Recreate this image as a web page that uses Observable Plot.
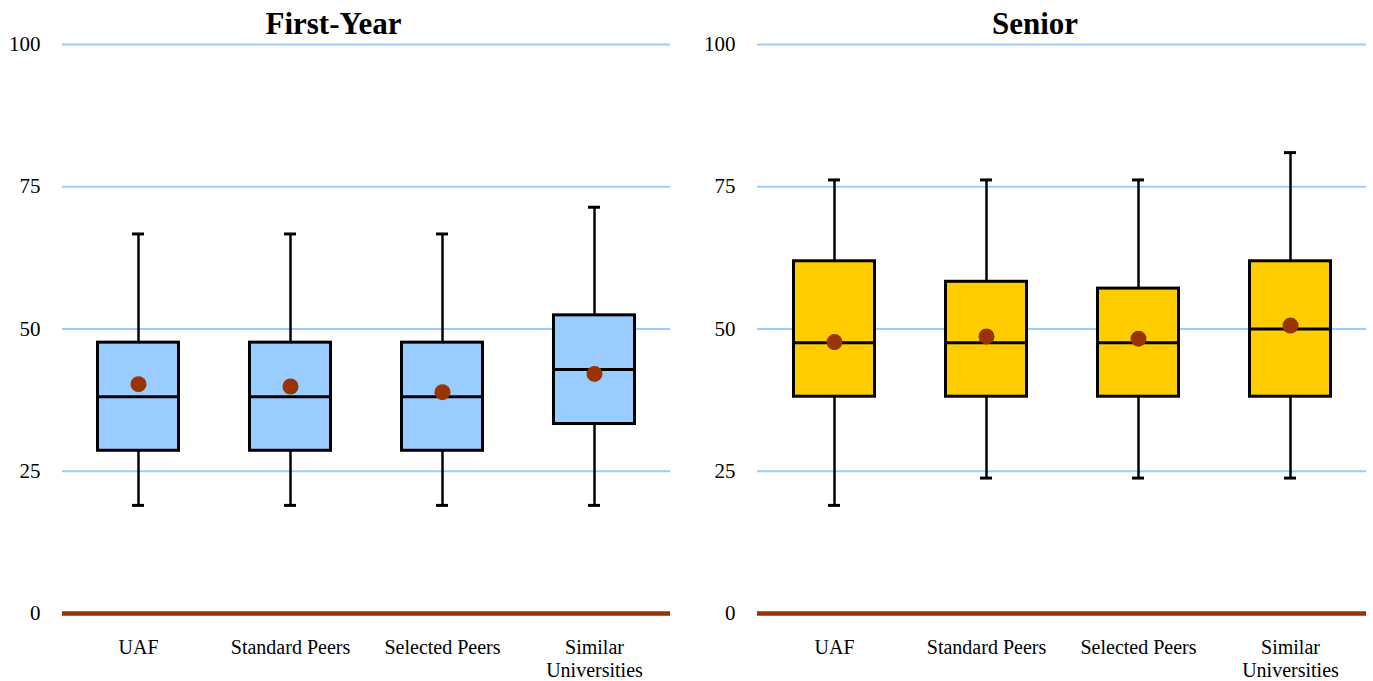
<!DOCTYPE html>
<html>
<head>
<meta charset="utf-8">
<script src="https://cdn.jsdelivr.net/npm/d3@7"></script>
<script src="https://cdn.jsdelivr.net/npm/@observablehq/plot@0.6"></script>
<style>
  html, body { margin: 0; padding: 0; background: #fff; }
  #wrap { display: flex; flex-direction: row; width: 1373px; height: 681px; }
</style>
</head>
<body>
<div id="wrap"></div>
<script>
const groups = ["UAF", "Standard Peers", "Selected Peers", "Similar Universities"];
const yTicks = [0, 25, 50, 75, 100];
const gridValues = [25, 50, 75, 100];

// First-Year
const fyLow    = [19.0, 19.0, 19.0, 19.0];
const fyQ1     = [28.6, 28.6, 28.6, 33.3];
const fyMedian = [38.1, 38.1, 38.1, 42.9];
const fyQ3     = [47.6, 47.6, 47.6, 52.4];
const fyHigh   = [66.7, 66.7, 66.7, 71.4];
const fyMean   = [40.3, 39.9, 38.9, 42.1];

// Senior
const srLow    = [19.0, 23.8, 23.8, 23.8];
const srQ1     = [38.1, 38.1, 38.1, 38.1];
const srMedian = [47.6, 47.6, 47.6, 50.0];
const srQ3     = [61.9, 58.3, 57.1, 61.9];
const srHigh   = [76.2, 76.2, 76.2, 81.0];
const srMean   = [47.7, 48.7, 48.3, 50.6];

function rows(low, q1, med, q3, high, mean) {
  return groups.map((g, i) => ({group: g, low: low[i], q1: q1[i], median: med[i], q3: q3[i], high: high[i], mean: mean[i]}));
}

function panel(title, data, fill, width, marginRight, titleDx) {
  return Plot.plot({
    width,
    height: 681,
    marginLeft: 62,
    marginRight,
    marginTop: 44,
    marginBottom: 68,
    style: {fontFamily: "'Liberation Serif', 'Times New Roman', serif", fontSize: "20px", color: "#000", background: "#fff"},
    x: {domain: groups, padding: 0, label: null},
    y: {domain: [0, 100], label: null},
    marks: [
      Plot.ruleY(gridValues, {stroke: "#99CCFF", strokeWidth: 2}),
      Plot.ruleY([0], {stroke: "#993300", strokeWidth: 4.5}),
      Plot.axisY({ticks: yTicks, tickSize: 0, tickPadding: 22, fontSize: 21, label: null}),
      Plot.axisX({tickSize: 0, tickPadding: 24, fontSize: 20, lineHeight: 1.15,
        tickFormat: d => d === "Similar Universities" ? "Similar\nUniversities" : d, label: null}),
      Plot.ruleX(data, {x: "group", y1: "low", y2: "high", stroke: "#000", strokeWidth: 2.5}),
      Plot.tickY(data, {x: "group", y: "low", stroke: "#000", strokeWidth: 3, insetLeft: 70, insetRight: 70}),
      Plot.tickY(data, {x: "group", y: "high", stroke: "#000", strokeWidth: 3, insetLeft: 70, insetRight: 70}),
      Plot.barY(data, {x: "group", y1: "q1", y2: "q3", fill, stroke: "#000", strokeWidth: 3, insetLeft: 35.5, insetRight: 35.5}),
      Plot.tickY(data, {x: "group", y: "median", stroke: "#000", strokeWidth: 3, insetLeft: 35.5, insetRight: 35.5}),
      Plot.dot(data, {x: "group", y: "mean", r: 8, fill: "#993300", stroke: "none"}),
      Plot.text([title], {frameAnchor: "top", dy: -20, dx: titleDx, fontSize: 31, fontWeight: "bold", lineAnchor: "middle", fill: "#000"})
    ]
  });
}

const wrap = document.getElementById("wrap");
wrap.appendChild(panel("First-Year", rows(fyLow, fyQ1, fyMedian, fyQ3, fyHigh, fyMean), "#99CCFF", 695, 25, -33));
wrap.appendChild(panel("Senior", rows(srLow, srQ1, srMedian, srQ3, srHigh, srMean), "#FFCC00", 678, 7, -27));
</script>
</body>
</html>
